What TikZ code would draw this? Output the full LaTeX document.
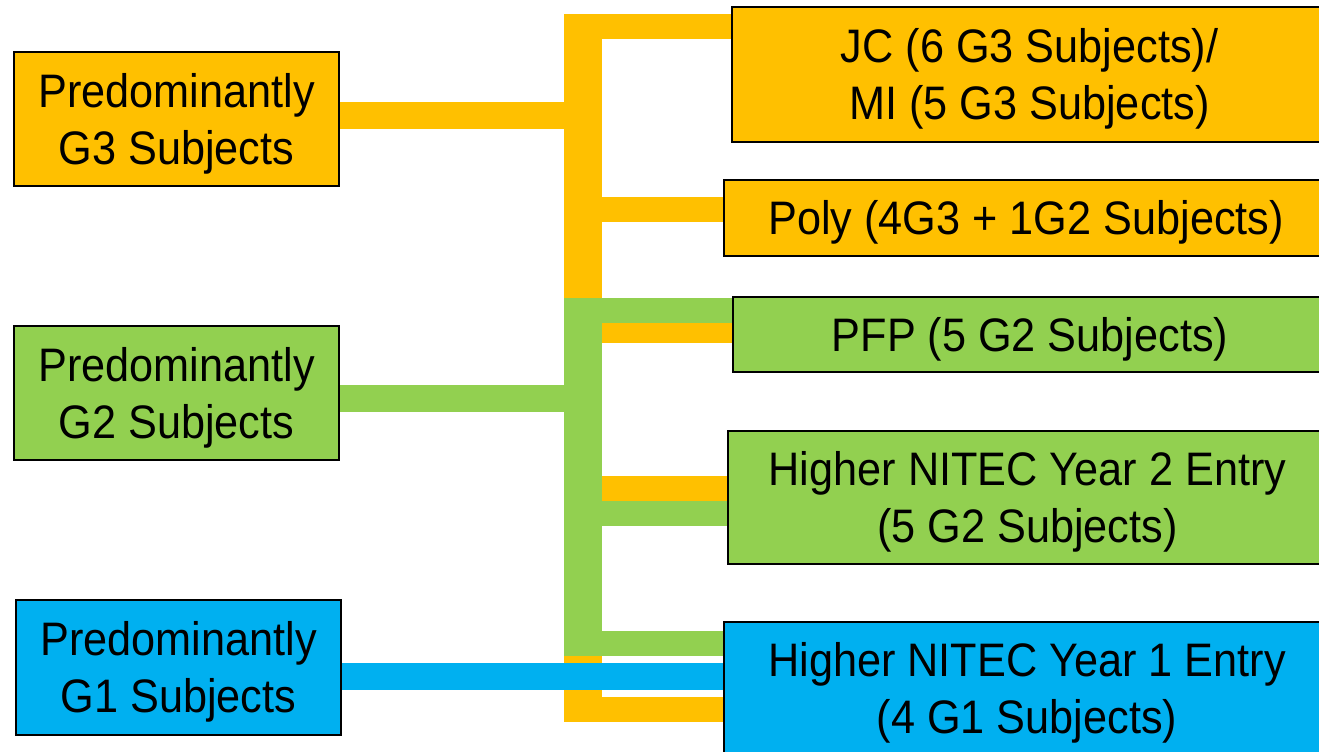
\documentclass[tikz,border=0pt]{standalone}
\usepackage{fontspec}
\setmainfont{Liberation Sans}[FakeStretch=0.92]
\definecolor{gorange}{HTML}{FFC000}
\definecolor{ggreen}{HTML}{92D050}
\definecolor{gblue}{HTML}{00B0F0}
\pgfdeclarelayer{bg}
\pgfsetlayers{bg,main}
\tikzset{
  box/.style={draw=black, line width=0.8pt, rectangle, inner sep=0pt, align=center,
    text depth=0.5pt, font=\fontsize{23.5}{28.5}\selectfont},
  trunk/.style={line width=19pt, line cap=butt},
  branch/.style={line width=12.5pt, line cap=butt},
  feed/.style={line width=13.5pt, line cap=butt},
}
\begin{document}
\begin{tikzpicture}[x=0.5pt, y=-0.5pt]
\useasboundingbox (0,0) rectangle (1319,751);
% source boxes
\node[box, fill=gorange, minimum width=162.5pt, minimum height=67pt] (g3) at (176.5,119) {Predominantly\\G3 Subjects};
\node[box, fill=ggreen, minimum width=162.5pt, minimum height=67pt] (g2) at (176.5,393) {Predominantly\\G2 Subjects};
\node[box, fill=gblue, minimum width=162.5pt, minimum height=67.5pt] (g1) at (178.5,667.5) {Predominantly\\G1 Subjects};
% target boxes
\node[box, fill=gorange, minimum width=297.5pt, minimum height=67.5pt] (jc) at (1029.5,74.5) {JC (6 G3 Subjects)/\\MI (5 G3 Subjects)};
\node[box, fill=gorange, minimum width=302pt, minimum height=38pt] (poly) at (1026,218) {Poly (4G3 + 1G2 Subjects)};
\node[box, fill=ggreen, minimum width=297pt, minimum height=37.5pt] (pfp) at (1030,334.5) {PFP (5 G2 Subjects)};
\node[box, fill=ggreen, minimum width=299.5pt, minimum height=66.5pt] (hn2) at (1027.5,497.5) {Higher NITEC Year 2 Entry\\(5 G2 Subjects)};
\node[box, fill=gblue, minimum width=303pt, minimum height=66.5pt] (hn1) at (1027,688.5) {Higher NITEC Year 1 Entry\\(4 G1 Subjects)};
% junction coordinates
\coordinate (otop) at (583,14);
\coordinate (obot) at (583,722);
\coordinate (gtop) at (583,298);
\coordinate (gbot) at (583,656);
\coordinate (g3j) at (583,115.5);
\coordinate (g2j) at (583,398.5);
\coordinate (g1j) at (583,676.5);
\coordinate (ojc) at (583,26.5);
\coordinate (opoly) at (583,209.5);
\coordinate (opfp) at (583,330.5);
\coordinate (ohn2) at (583,488.5);
\coordinate (ohn1) at (583,709.5);
\coordinate (gpfp) at (583,310.5);
\coordinate (ghn2) at (583,513.5);
\coordinate (ghn1) at (583,643.5);
\begin{pgfonlayer}{bg}
% orange (G3) connectors
\draw[gorange, trunk] (otop) -- (obot);
\draw[gorange, feed] (g3.east |- g3j) -- (g3j);
\draw[gorange, branch] (ojc) -- (ojc -| jc.west);
\draw[gorange, branch] (opoly) -- (opoly -| poly.west);
\draw[gorange, branch] (opfp) -- (opfp -| pfp.west);
\draw[gorange, branch] (ohn2) -- (ohn2 -| hn2.west);
\draw[gorange, branch] (ohn1) -- (ohn1 -| hn1.west);
% green (G2) connectors
\draw[ggreen, trunk] (gtop) -- (gbot);
\draw[ggreen, feed] (g2.east |- g2j) -- (g2j);
\draw[ggreen, branch] (gpfp) -- (gpfp -| pfp.west);
\draw[ggreen, branch] (ghn2) -- (ghn2 -| hn2.west);
\draw[ggreen, branch] (ghn1) -- (ghn1 -| hn1.west);
% blue (G1) connector
\draw[gblue, feed] (g1.east |- g1j) -- (g1j -| hn1.west);
\end{pgfonlayer}
\end{tikzpicture}
\end{document}
